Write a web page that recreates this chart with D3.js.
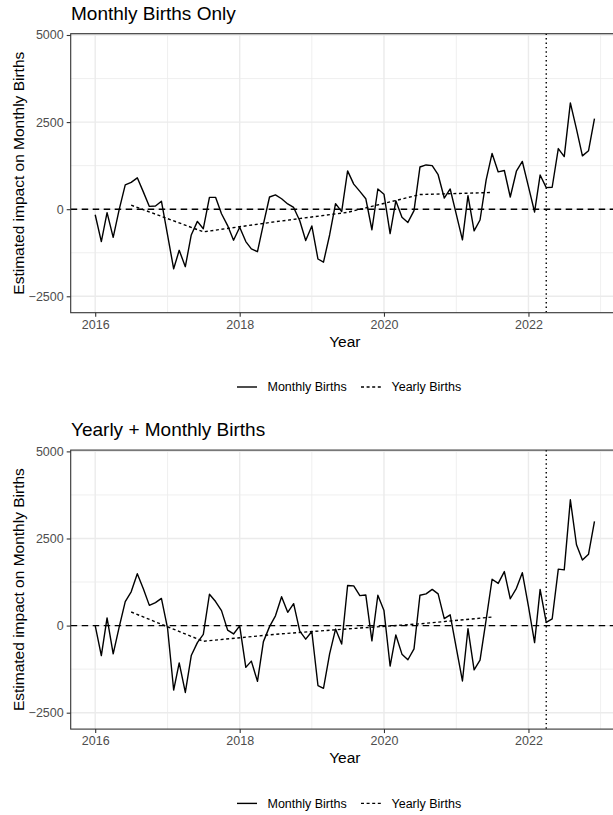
<!DOCTYPE html>
<html>
<head>
<meta charset="utf-8">
<script src="https://cdn.jsdelivr.net/npm/d3@7"></script>
<style>
  body { margin: 0; background: #fff; }
  svg { display: block; font-family: "Liberation Sans", Arial, Helvetica, sans-serif; }
</style>
</head>
<body>
<div id="chart"></div>
<script>
// monthly estimates, Jan 2016 .. Dec 2022
var monthlyOnly = [
  -160, -930, -100, -810, -20, 700, 770, 900, 490, 80, 90, 230,
  -740, -1710, -1180, -1650, -740, -350, -560, 340, 340, -130, -470, -890,
  -520, -930, -1140, -1220, -430, 350, 410, 300, 150, 50, -330, -900,
  -480, -1430, -1520, -740, 160, -70, 1100, 720, 510, 300, -590, 580,
  430, -700, 240, -230, -380, -40, 1210, 1270, 1250, 990, 320, 580,
  -150, -880, 390, -620, -310, 840, 1600, 1070, 1110, 350, 1090, 1370,
  650, -80, 980, 620, 630, 1740, 1510, 3050, 2300, 1530, 1680, 2600
];
var monthlyCombined = [
  0, -860, 220, -810, -50, 690, 970, 1490, 1050, 580, 660, 780,
  -70, -1850, -1070, -1920, -860, -490, -250, 900, 690, 430, -130, -240,
  -10, -1200, -1020, -1600, -460, -30, 280, 830, 380, 630, -160, -390,
  -170, -1720, -1800, -810, -100, -530, 1150, 1140, 860, 880, -440, 870,
  430, -1160, -270, -820, -980, -670, 870, 910, 1040, 910, 200, 310,
  -650, -1590, -90, -1270, -990, 170, 1330, 1210, 1550, 770, 1070, 1520,
  550, -490, 1040, 90, 190, 1620, 1600, 3610, 2320, 1880, 2050, 2990
];
// yearly estimates, plotted at mid-year 2016 .. 2021
var yearlyOnly = [115, -650, -360, -90, 420, 480];
var yearlyCombined = [390, -450, -250, -95, 50, 245];

var panelTitles = ["Monthly Births Only", "Yearly + Monthly Births"];
var seriesNames = ["Monthly Births", "Yearly Births"];
var yTicks = [-2500, 0, 2500, 5000];
var yMinor = [-1250, 1250, 3750];
var xTickYears = [2016, 2018, 2020, 2022];
var xMinorYears = [2017, 2019, 2021, 2023];
var cutoffDate = new Date(2022, 3, 1);

var months = d3.timeMonth.range(new Date(2016, 0, 1), new Date(2023, 0, 1));
var midYears = d3.range(2016, 2022).map(function(y) { return new Date(y, 6, 1); });

var W = 613, H = 815;
var svg = d3.select("#chart").append("svg").attr("width", W).attr("height", H);

var left = 70.7, right = 619;
var x = d3.scaleTime()
  .domain([new Date(2016, 0, 1), new Date(2023, 0, 1)])
  .range([95.2, 600.6]);

function drawPanel(offset, title, monthly, yearly) {
  var top = 33.7, bottom = 312.7;
  var y = d3.scaleLinear().domain([-2971, 5037]).range([bottom, top]);
  var g = svg.append("g").attr("transform", "translate(0," + offset + ")");

  g.append("text").attr("x", 71).attr("y", 20)
    .style("font-size", "19px").attr("fill", "#000").text(title);

  var grid = g.append("g");
  yMinor.forEach(function(v) {
    grid.append("line").attr("x1", left).attr("x2", right).attr("y1", y(v)).attr("y2", y(v))
      .attr("stroke", "#ebebeb").attr("stroke-width", 0.8);
  });
  xMinorYears.forEach(function(yr) {
    var xx = x(new Date(yr, 0, 1));
    grid.append("line").attr("x1", xx).attr("x2", xx).attr("y1", top).attr("y2", bottom)
      .attr("stroke", "#ebebeb").attr("stroke-width", 0.8);
  });
  yTicks.forEach(function(v) {
    grid.append("line").attr("x1", left).attr("x2", right).attr("y1", y(v)).attr("y2", y(v))
      .attr("stroke", "#ebebeb").attr("stroke-width", 1.4);
  });
  xTickYears.forEach(function(yr) {
    var xx = x(new Date(yr, 0, 1));
    grid.append("line").attr("x1", xx).attr("x2", xx).attr("y1", top).attr("y2", bottom)
      .attr("stroke", "#ebebeb").attr("stroke-width", 1.4);
  });

  // reference lines
  g.append("line").attr("x1", left).attr("x2", right).attr("y1", y(0)).attr("y2", y(0))
    .attr("stroke", "#000").attr("stroke-width", 1.4).attr("stroke-dasharray", "6.5,4.5");
  g.append("line").attr("x1", x(cutoffDate)).attr("x2", x(cutoffDate)).attr("y1", top).attr("y2", bottom)
    .attr("stroke", "#000").attr("stroke-width", 1.4).attr("stroke-dasharray", "1.4,3");

  var line = d3.line().x(function(d) { return x(d[0]); }).y(function(d) { return y(d[1]); });

  g.append("path").datum(midYears.map(function(d, i) { return [d, yearly[i]]; }))
    .attr("d", line).attr("fill", "none").attr("stroke", "#000")
    .attr("stroke-width", 1.4).attr("stroke-dasharray", "3,2.6");
  g.append("path").datum(months.map(function(d, i) { return [d, monthly[i]]; }))
    .attr("d", line).attr("fill", "none").attr("stroke", "#000")
    .attr("stroke-width", 1.4).attr("stroke-linejoin", "round");

  // panel border
  g.append("rect").attr("x", left).attr("y", top).attr("width", right - left).attr("height", bottom - top)
    .attr("fill", "none").attr("stroke", "#333").attr("stroke-width", 1.1);

  // axes
  var yAxis = d3.axisLeft(y).tickValues(yTicks).tickSize(4).tickPadding(3).tickFormat(d3.format("d"));
  var ya = g.append("g").attr("transform", "translate(" + left + ",0)").call(yAxis);
  var xAxis = d3.axisBottom(x).tickValues(xTickYears.map(function(yr) { return new Date(yr, 0, 1); }))
    .tickSize(4).tickPadding(3).tickFormat(d3.timeFormat("%Y"));
  var xa = g.append("g").attr("transform", "translate(0," + bottom + ")").call(xAxis);
  [ya, xa].forEach(function(a) {
    a.select(".domain").remove();
    a.selectAll(".tick line").attr("stroke", "#333").attr("stroke-width", 1.1);
    a.selectAll(".tick text").attr("fill", "#4d4d4d").style("font-size", "12.5px")
      .style("font-family", "'Liberation Sans', Arial, sans-serif");
  });

  g.append("text").attr("x", (left + right) / 2).attr("y", 347).attr("text-anchor", "middle")
    .style("font-size", "15.5px").text("Year");
  g.append("text").attr("transform", "translate(24," + ((top + bottom) / 2) + ") rotate(-90)")
    .attr("text-anchor", "middle").style("font-size", "15.5px")
    .text("Estimated impact on Monthly Births");

  // legend
  var lg = g.append("g").attr("transform", "translate(0,387)");
  var keys = [{ x: 237, dash: null }, { x: 361, dash: "3,2.6" }];
  keys.forEach(function(k, i) {
    lg.append("line").attr("x1", k.x).attr("x2", k.x + 20).attr("y1", 0).attr("y2", 0)
      .attr("stroke", "#000").attr("stroke-width", 1.4).attr("stroke-dasharray", k.dash);
    lg.append("text").attr("x", k.x + 30.5).attr("y", 0).attr("dy", "0.35em")
      .style("font-size", "12.5px").text(seriesNames[i]);
  });
}

drawPanel(0, panelTitles[0], monthlyOnly, yearlyOnly);
drawPanel(416.4, panelTitles[1], monthlyCombined, yearlyCombined);
</script>
</body>
</html>
